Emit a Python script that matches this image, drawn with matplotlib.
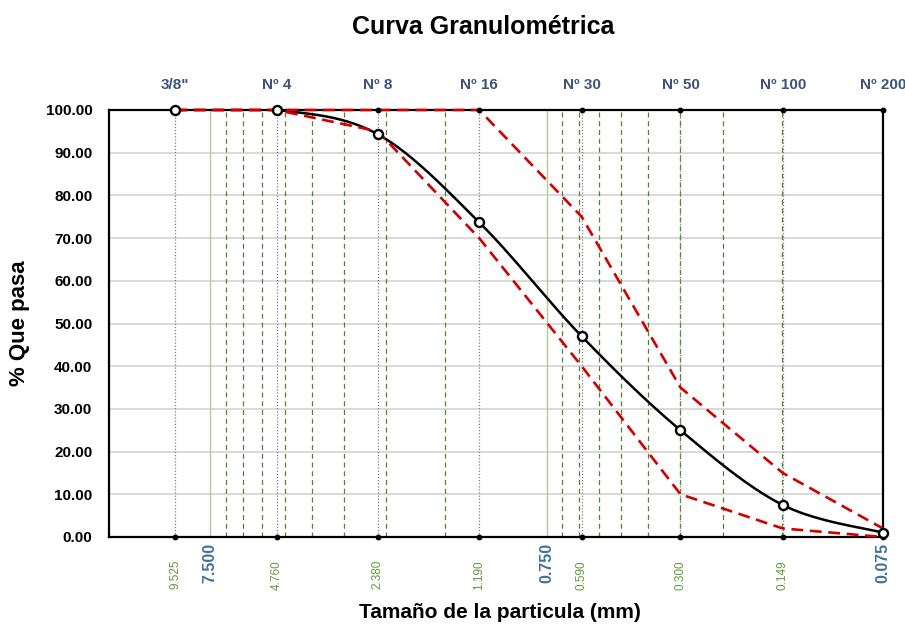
import numpy as np
import matplotlib
matplotlib.use('Agg')
import matplotlib.pyplot as plt
from matplotlib.ticker import NullLocator

plt.rcParams['font.family'] = ['Liberation Sans', 'DejaVu Sans']

# ---- data ----
sieve_names = ['3/8"', 'Nº 4', 'Nº 8', 'Nº 16', 'Nº 30', 'Nº 50', 'Nº 100', 'Nº 200']
sieve_mm = [9.525, 4.760, 2.380, 1.190, 0.590, 0.300, 0.149, 0.075]
# green size labels (the last sieve is labelled by the blue axis label)
sieve_labels = ['9.525', '4.760', '2.380', '1.190', '0.590', '0.300', '0.149']
passing = [100.0, 100.0, 94.3, 73.7, 47.0, 25.0, 7.5, 1.0]
upper_limit = [100, 100, 100, 100, 75, 35, 15, 2]
lower_limit = [100, 100, 95, 70, 40, 10, 2, 0]
major_ticks = [7.5, 0.75, 0.075]
major_labels = ['7.500', '0.750', '0.075']
minor_ticks = [6.75, 6.0, 5.25, 4.5, 3.75, 3.0, 2.25, 1.5,
               0.675, 0.6, 0.525, 0.45, 0.375, 0.3, 0.225, 0.15]
y_ticks = [0, 10, 20, 30, 40, 50, 60, 70, 80, 90, 100]
x_limits = (15, 0.075)


def smooth_curve(xs, ys, n=60):
    """Excel-like smoothed line (Catmull-Rom Bezier) in log-x space."""
    P = np.column_stack([np.log10(xs), ys])
    Pe = np.vstack([P[0], P, P[-1]])
    out = []
    t = np.linspace(0, 1, n)[:, None]
    for i in range(len(P) - 1):
        p0, p1, p2, p3 = Pe[i], Pe[i + 1], Pe[i + 2], Pe[i + 3]
        c1 = p1 + (p2 - p0) / 6.0
        c2 = p2 - (p3 - p1) / 6.0
        seg = (1 - t) ** 3 * p1 + 3 * (1 - t) ** 2 * t * c1 + 3 * (1 - t) * t ** 2 * c2 + t ** 3 * p2
        out.append(seg if i == 0 else seg[1:])
    pts = np.vstack(out)
    return 10 ** pts[:, 0], pts[:, 1]


fig = plt.figure(figsize=(9.05, 6.3), dpi=100)
ax = fig.add_axes([109 / 905, 1 - 537 / 630, (883 - 109) / 905, 427 / 630])
ax.set_xscale('log')
ax.set_xlim(*x_limits)
ax.set_ylim(0, 100)
ax.xaxis.set_major_locator(NullLocator())
ax.xaxis.set_minor_locator(NullLocator())

ax.set_yticks(y_ticks)
ax.set_yticklabels([f'{v:.2f}' for v in y_ticks], fontsize=11, fontweight='bold')
ax.tick_params(axis='y', length=0, pad=12)
ax.tick_params(axis='y', which='minor', length=0)

for s in ax.spines.values():
    s.set_linewidth(1.6)
    s.set_color('black')

# horizontal grid
for v in y_ticks[1:-1]:
    ax.axhline(v, color='#D9D9D9', lw=1.4, zorder=1)

# vertical grid (log axis, base units 0.075)
for v in major_ticks:
    ax.axvline(v, color='#A9D18E', lw=1.0, zorder=1.5)
for v in minor_ticks:
    ax.axvline(v, color='#548235', lw=0.9, ls=(0, (4, 3)), zorder=1.5)
for v in sieve_mm:
    ax.axvline(v, color='#808080', lw=0.9, ls=(0, (1, 1.5)), zorder=1.6)

# limits
ax.plot(sieve_mm, upper_limit, color='#D00000', lw=1.9, ls=(0, (4.5, 2.5)), zorder=4, clip_on=False)
ax.plot(sieve_mm, lower_limit, color='#D00000', lw=1.9, ls=(0, (4.5, 2.5)), zorder=4, clip_on=False)

# smoothed curve
sx, sy = smooth_curve(sieve_mm, passing)
ax.plot(sx, sy, color='black', lw=1.8, zorder=3)
ax.plot(sieve_mm, passing, 'o', ms=6.5, mfc='white', mec='black', mew=1.7, zorder=6, clip_on=False)

# small dots on top/bottom frame
ax.plot(sieve_mm, [100] * len(sieve_mm), 'o', ms=3.2, color='black', zorder=5, clip_on=False)
ax.plot(sieve_mm, [0] * len(sieve_mm), 'o', ms=3.2, color='black', zorder=5, clip_on=False)

# top labels (sieve names)
for d, name in zip(sieve_mm, sieve_names):
    ax.annotate(name, xy=(d, 1.0), xycoords=('data', 'axes fraction'),
                xytext=(0, 18), textcoords='offset points', ha='center', va='center',
                fontsize=11, fontweight='bold', color='#3F5378')

# bottom labels
for d, lab in zip(major_ticks, major_labels):
    ax.annotate(lab, xy=(d, 0.0), xycoords=('data', 'axes fraction'),
                xytext=(0, -4.5), textcoords='offset points', ha='center', va='top',
                rotation=90, fontsize=11.5, fontweight='bold', color='#41719C')
for d, lab in zip(sieve_mm, sieve_labels):
    ax.annotate(lab, xy=(d, 0.0), xycoords=('data', 'axes fraction'),
                xytext=(0, -16.5), textcoords='offset points', ha='center', va='top',
                rotation=90, fontsize=8.5, color='#5E9A3C')

fig.text(483 / 905, 1 - 27 / 630, 'Curva Granulométrica', ha='center', va='center',
         fontsize=18, fontweight='bold')
fig.text(500 / 905, 1 - 612 / 630, 'Tamaño de la particula (mm)', ha='center', va='center',
         fontsize=15, fontweight='bold')
fig.text(20 / 905, 1 - 323 / 630, '% Que pasa', ha='center', va='center', rotation=90,
         fontsize=16, fontweight='bold')

fig.savefig('out.png', dpi=100)
